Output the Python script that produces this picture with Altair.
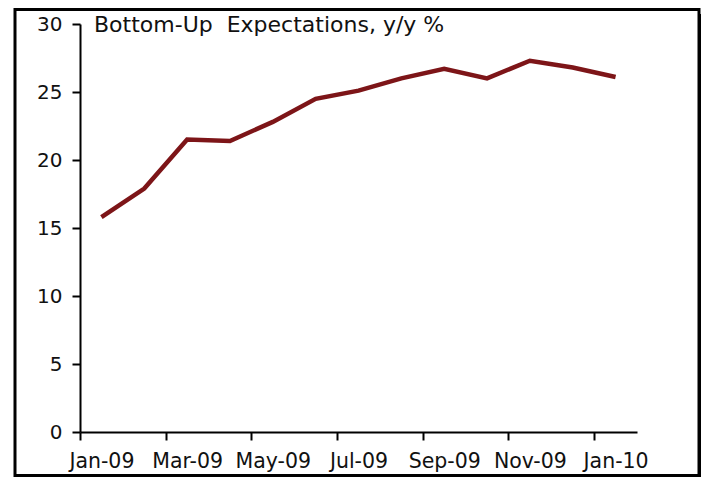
import json
import altair as alt
import pandas as pd

months = ["Jan-09", "Feb-09", "Mar-09", "Apr-09", "May-09", "Jun-09", "Jul-09",
          "Aug-09", "Sep-09", "Oct-09", "Nov-09", "Dec-09", "Jan-10"]
values = [15.8, 17.9, 21.5, 21.4, 22.8, 24.5, 25.1, 26.0, 26.7, 26.0, 27.3, 26.8, 26.1]
y_ticks = [0, 5, 10, 15, 20, 25, 30]
title_text = "Bottom-Up\u00a0 Expectations, y/y %"

W, H = 557, 408
n = len(months)
half = W / n / 2

df = pd.DataFrame({"pos": [i + 0.5 for i in range(n)], "month": months, "value": values})

label_expr = json.dumps(months) + "[round(datum.value - 0.5)]"
x_label_vals = [i + 0.5 for i in range(0, n, 2)]

FONT = "DejaVu Sans"

line = alt.Chart(df).mark_line(color="#7D1518", strokeWidth=4.5, strokeCap="butt").encode(
    x=alt.X("pos:Q",
            scale=alt.Scale(domain=[0, n], nice=False, zero=False),
            axis=alt.Axis(values=x_label_vals, labelExpr=label_expr, title=None,
                          grid=False, tickSize=8, tickWidth=2, tickColor="black",
                          tickOffset=-half, labelOffset=half,
                          domainColor="black", domainWidth=2,
                          labelFont=FONT, labelFontSize=20.5, labelColor="#111",
                          labelPadding=11, labelAngle=0, labelFlush=False,
                          labelOverlap=False)),
    y=alt.Y("value:Q",
            scale=alt.Scale(domain=[0, 30], nice=False),
            axis=alt.Axis(values=y_ticks, title=None, grid=False, tickSize=8,
                          tickWidth=2, tickColor="black", domainColor="black",
                          domainWidth=2, labelFont=FONT, labelFontSize=20,
                          labelColor="#111", labelPadding=10)),
)

one = alt.Data(values=[{"t": title_text}])

title = alt.Chart(one).mark_text(align="left", baseline="alphabetic", font=FONT,
                                 fontSize=22, color="#111").encode(
    x=alt.value(14), y=alt.value(8), text="t:N")

frame = alt.Chart(one).mark_rect(fill="transparent", stroke="black", strokeWidth=3).encode(
    x=alt.value(-65), x2=alt.value(619), y=alt.value(-14.5), y2=alt.value(451.5))

shadow = alt.Chart(one).mark_rect(fill="black").encode(
    x=alt.value(619), x2=alt.value(626), y=alt.value(-10), y2=alt.value(460))

chart = alt.layer(shadow, frame, line, title).properties(
    width=W, height=H,
    padding={"left": 72, "top": 16, "right": 64, "bottom": 45},
    autosize=alt.AutoSizeParams(type="none"),
    view=alt.ViewBackground(strokeOpacity=0, strokeWidth=0),
).configure_view(strokeOpacity=0, strokeWidth=0).configure(background="white")

chart.save("out.html", embed_options={"renderer": "svg", "actions": False})
